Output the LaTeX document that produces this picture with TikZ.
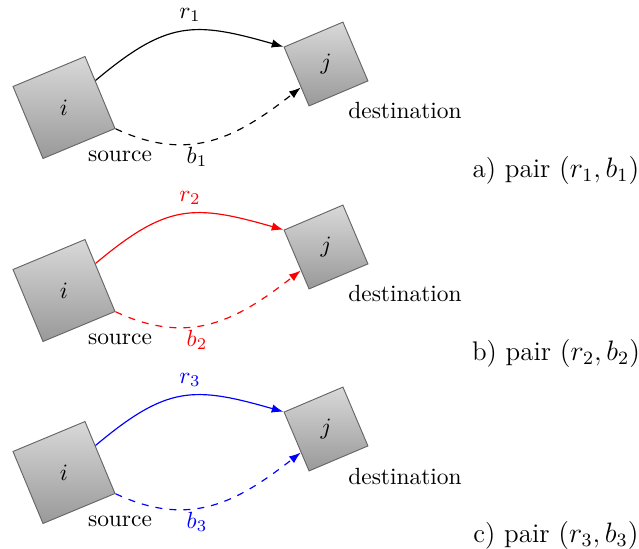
\documentclass[tikz,border=0pt]{standalone}
\usetikzlibrary{arrows.meta}
\begin{document}
\begin{tikzpicture}[x=0.427pt,y=-0.427pt,
  sq/.style={draw=black!60,top color=black!15,bottom color=black!40,inner sep=0pt},
  sqi/.style={sq,minimum size=33.3pt,rotate=22.6},
  sqj/.style={sq,minimum size=27.3pt,rotate=23},
  conn/.style={-{Latex[length=5pt,width=3.6pt]},line width=0.5pt},
  lbl/.style={inner sep=0pt},
  pairlbl/.style={inner sep=0pt,font=\fontsize{11.5}{14}\selectfont}]
\useasboundingbox (0,0) rectangle (639,548);
\foreach \k/\c/\dy/\lab in {1/black/0/a,2/red/183/b,3/blue/365/c}{
  \begin{scope}[shift={(0,\dy)}]
    \node[sqi] (i\k) at (64,107.5) {};
    \node[lbl] (ti\k) at (i\k.center) {$i$};
    \node[sqj] (j\k) at (326,64) {};
    \node[lbl] (tj\k) at (j\k.center) {$j$};
    \draw[conn,\c] (i\k.18) to[out=40,in=164,looseness=1.25] (j\k.north west);
    \draw[conn,\c,dashed] (i\k.south east) to[out=-25,in=-142,looseness=1.1] (j\k.200);
    \node[lbl,text=\c] (r\k) at (190,15) {$r_{\k}$};
    \node[lbl,text=\c] (b\k) at (197,157) {$b_{\k}$};
    \node[lbl] (s\k) at (120,156) {source};
    \node[lbl] (d\k) at (405,111) {destination};
    \node[pairlbl] (p\k) at (556,170) {\lab) pair $(r_{\k},b_{\k})$};
  \end{scope}
}
\end{tikzpicture}
\end{document}
